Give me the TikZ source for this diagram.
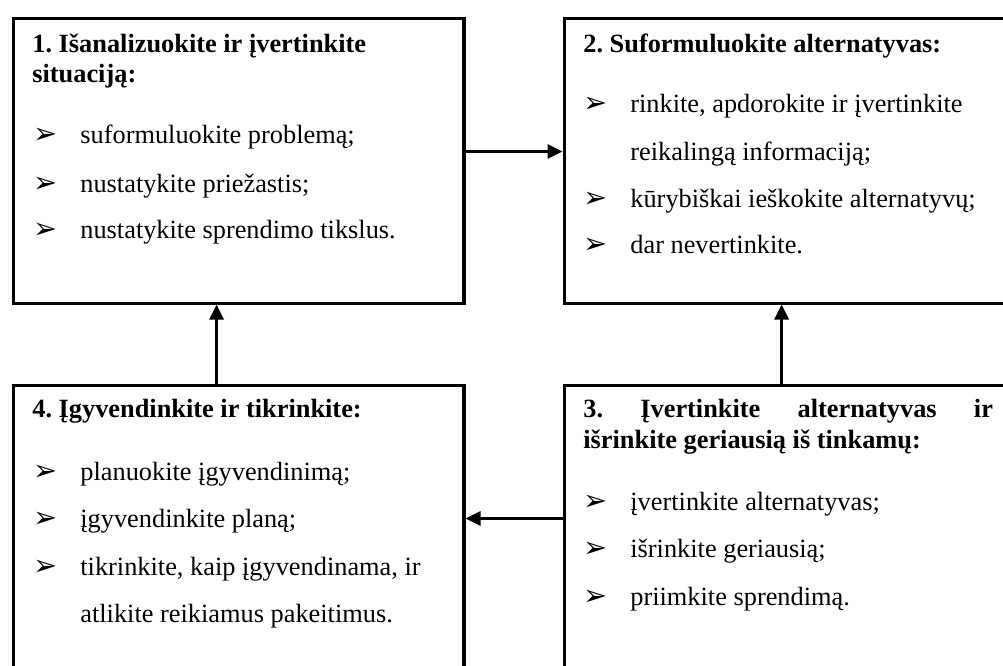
\documentclass[tikz,border=0pt]{standalone}
\usepackage{fontspec}
\setmainfont{Liberation Serif}
\newfontfamily\symfont{DejaVu Sans}
\usetikzlibrary{arrows.meta}
\frenchspacing
\begin{document}
\begin{tikzpicture}[x=0.52pt,y=-0.52pt,
  box/.style={draw=black,line width=1.6pt,inner sep=0pt,anchor=north west},
  head/.style={anchor=base west,inner sep=0pt,font=\fontsize{13.7}{16}\selectfont\bfseries},
  txt/.style={anchor=base west,inner sep=0pt,font=\fontsize{13.7}{16}\selectfont},
  bul/.style={anchor=base west,inner sep=0pt,font=\symfont\fontsize{15}{16}\selectfont},
  arr/.style={line width=1.2pt,-{Triangle[length=7.8pt,width=7.4pt]}}]
\useasboundingbox (0,0) rectangle (1003,666);
% boxes
\node[box,minimum width=234.5pt,minimum height=148.2pt] (sit) at (11.5,16.5) {};
\node[box,minimum width=238pt,minimum height=148.2pt] (alt) at (562.5,16.5) {};
\node[box,minimum width=238pt,minimum height=159.4pt] (eval) at (562.5,383.5) {};
\node[box,minimum width=234.5pt,minimum height=159.4pt] (impl) at (11.5,383.5) {};
% 1
\node[head] (sit-h1) at (32,52) {1. Išanalizuokite ir įvertinkite};
\node[head] (sit-h2) at (32,82) {situaciją:};
\node[bul] (sit-b1) at (33,143) {➢};
\node[txt] (sit-i1) at (80,143) {suformuluokite problemą;};
\node[bul] (sit-b2) at (33,192) {➢};
\node[txt] (sit-i2) at (80,192) {nustatykite priežastis;};
\node[bul] (sit-b3) at (33,238) {➢};
\node[txt] (sit-i3) at (80,238) {nustatykite sprendimo tikslus.};
% 2
\node[head] (alt-h1) at (583,52) {2. Suformuluokite alternatyvas:};
\node[bul] (alt-b1) at (583,112) {➢};
\node[txt] (alt-i1) at (630,112) {rinkite, apdorokite ir įvertinkite};
\node[txt] (alt-i1b) at (630,160) {reikalingą informaciją;};
\node[bul] (alt-b2) at (583,207) {➢};
\node[txt] (alt-i2) at (630,207) {kūrybiškai ieškokite alternatyvų;};
\node[bul] (alt-b3) at (583,253) {➢};
\node[txt] (alt-i3) at (630,253) {dar nevertinkite.};
% 3
\node[head] (eval-h1) at (583,417) {\makebox[213pt][s]{3. Įvertinkite alternatyvas ir}};
\node[head] (eval-h2) at (583,448) {išrinkite geriausią iš tinkamų:};
\node[bul] (eval-b1) at (583,510) {➢};
\node[txt] (eval-i1) at (630,510) {įvertinkite alternatyvas;};
\node[bul] (eval-b2) at (583,557) {➢};
\node[txt] (eval-i2) at (630,557) {išrinkite geriausią;};
\node[bul] (eval-b3) at (583,605) {➢};
\node[txt] (eval-i3) at (630,605) {priimkite sprendimą.};
% 4
\node[head] (impl-h1) at (32,417) {4. Įgyvendinkite ir tikrinkite:};
\node[bul] (impl-b1) at (33,480) {➢};
\node[txt] (impl-i1) at (80,480) {planuokite įgyvendinimą;};
\node[bul] (impl-b2) at (33,527) {➢};
\node[txt] (impl-i2) at (80,527) {įgyvendinkite planą;};
\node[bul] (impl-b3) at (33,575) {➢};
\node[txt] (impl-i3) at (80,575) {tikrinkite, kaip įgyvendinama, ir};
\node[txt] (impl-i3b) at (80,622) {atlikite reikiamus pakeitimus.};
% arrows
\draw[arr] ([yshift=4.7pt]sit.east) -- ([yshift=4.7pt]alt.west);
\draw[arr] ([xshift=-5.85pt]eval.north) -- ([xshift=-5.85pt]alt.south);
\draw[arr] ([yshift=10.3pt]eval.west) -- ([yshift=10.3pt]impl.east);
\draw[arr] ([xshift=-11.4pt]impl.north) -- ([xshift=-11.4pt]sit.south);
\end{tikzpicture}
\end{document}
